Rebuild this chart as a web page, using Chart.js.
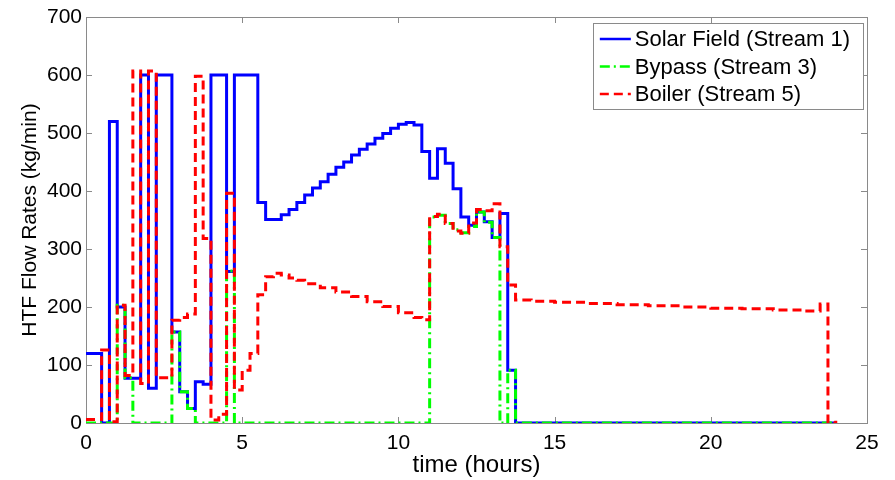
<!DOCTYPE html>
<html>
<head>
<meta charset="utf-8">
<script src="https://cdn.jsdelivr.net/npm/chart.js@4.4.0/dist/chart.umd.min.js"></script>
<style>
  html, body { margin: 0; padding: 0; background: #fff; }
</style>
</head>
<body>
<canvas id="flowChart" width="895" height="480"></canvas>
<script>
// Each flow value holds from its time until the next time in the list
const solarTimes = [0, 0.5, 0.75, 1.0, 1.25, 1.75, 2.0, 2.25, 2.75, 3.0,
  3.25, 3.5, 3.75, 4.0, 4.5, 4.75, 5.5, 5.75, 6.25, 6.5,
  6.75, 7.0, 7.25, 7.5, 7.75, 8.0, 8.25, 8.5, 8.75, 9.0,
  9.25, 9.5, 9.75, 10.0, 10.25, 10.5, 10.75, 11.0, 11.25, 11.5,
  11.75, 12.0, 12.25, 12.5, 12.75, 13.0, 13.25, 13.5, 13.75, 24];
const solarFlow = [120, 0, 520, 200, 77, 600, 60, 600, 157, 54,
  25, 71, 67, 600, 261, 600, 380, 351, 359, 368,
  380, 393, 405, 416, 429, 441, 450, 462, 472, 481,
  491, 499, 508, 515, 518, 514, 468, 422, 473, 448,
  404, 355, 341, 364, 347, 320, 361, 91, 0, 0];

const bypassTimes = [0, 1.0, 1.25, 1.5, 2.75, 3.0, 3.25, 3.5, 4.5, 4.75,
  11.0, 11.25, 11.5, 11.75, 12.0, 12.25, 12.5, 12.75, 13.0, 13.25,
  13.5, 13.75, 24];
const bypassFlow = [0, 203, 78, 0, 157, 54, 25, 0, 262, 0,
  355, 358, 344, 333, 328, 339, 364, 346, 320, 0,
  91, 0, 0];

const boilerTimes = [0, 0.5, 0.75, 1.0, 1.25, 1.5, 1.75, 2.0, 2.25, 2.75,
  3.0, 3.25, 3.5, 3.75, 4.0, 4.25, 4.5, 4.75, 5.0, 5.25,
  5.5, 5.75, 6.0, 6.25, 6.5, 6.75, 7.0, 7.5, 8.0, 8.5,
  9.0, 9.5, 10.0, 10.5, 10.75, 11.0, 11.25, 11.5, 11.75, 12.0,
  12.25, 12.5, 12.75, 13.0, 13.25, 13.5, 13.75, 14.25, 15, 16,
  17, 18, 19, 20, 21, 22, 23, 23.5, 23.75, 24];
const boilerFlow = [6, 126, 2, 203, 82, 607, 68, 607, 78, 177,
  182, 188, 598, 318, 5, 15, 396, 57, 91, 120,
  221, 252, 258, 255, 250, 246, 240, 233, 226, 218,
  209, 201, 190, 182, 178, 356, 360, 344, 331, 327,
  345, 368, 366, 378, 304, 238, 212, 210, 208, 206,
  204, 202, 200, 198, 197, 195, 193, 205, 0, 4];

const xTicks = [0, 5, 10, 15, 20, 25];
const yTicks = [0, 100, 200, 300, 400, 500, 600, 700];

const FONT = "'Liberation Sans', Arial, sans-serif";
const AXIS_COLOR = "#8a8a8a";

function toPoints(times, flows) {
  return times.map((t, i) => ({ x: t, y: flows[i] }));
}

// box around the plot with inward tick marks on all four sides
const framePlugin = {
  id: "frame",
  beforeDatasetsDraw(chart) {
    const { ctx, chartArea: a, scales } = chart;
    const len = 6;
    ctx.save();
    ctx.strokeStyle = AXIS_COLOR;
    ctx.lineWidth = 1;
    ctx.strokeRect(a.left + 0.5, a.top + 0.5, a.right - a.left, a.bottom - a.top);
    ctx.beginPath();
    scales.x.ticks.forEach(tk => {
      const px = Math.round(scales.x.getPixelForValue(tk.value)) + 0.5;
      ctx.moveTo(px, a.bottom); ctx.lineTo(px, a.bottom - len);
      ctx.moveTo(px, a.top); ctx.lineTo(px, a.top + len);
    });
    scales.y.ticks.forEach(tk => {
      const py = Math.round(scales.y.getPixelForValue(tk.value)) + 0.5;
      ctx.moveTo(a.left, py); ctx.lineTo(a.left + len, py);
      ctx.moveTo(a.right, py); ctx.lineTo(a.right - len, py);
    });
    ctx.stroke();
    ctx.restore();
  }
};

// legend box in the upper right corner of the plot
const legendBoxPlugin = {
  id: "legendBox",
  afterDraw(chart) {
    const { ctx, chartArea: a } = chart;
    const sets = chart.data.datasets.slice().sort((p, q) => p.legendIndex - q.legendIndex);
    ctx.save();
    ctx.font = "22px " + FONT;
    const textW = Math.max(...sets.map(d => ctx.measureText(d.label).width));
    const right = a.right - 4;
    const top = a.top + 6;
    const w = textW + 55;
    const h = 86;
    const left = right - w;
    ctx.fillStyle = "#fff";
    ctx.fillRect(left, top, w, h);
    ctx.strokeStyle = AXIS_COLOR;
    ctx.lineWidth = 1;
    ctx.strokeRect(Math.round(left) + 0.5, top + 0.5, Math.round(w), h);
    sets.forEach((d, i) => {
      const y = top + 16 + i * 27.5;
      ctx.strokeStyle = d.borderColor;
      ctx.lineWidth = 2.5;
      ctx.setLineDash(d.borderDash || []);
      ctx.beginPath();
      ctx.moveTo(left + 7, y);
      ctx.lineTo(left + 38, y);
      ctx.stroke();
      ctx.setLineDash([]);
      ctx.fillStyle = "#000";
      ctx.textBaseline = "middle";
      ctx.textAlign = "left";
      ctx.fillText(d.label, left + 42, y + 1);
    });
    ctx.restore();
  }
};

const flowConfig = {
  type: "line",
  data: {
    datasets: [
      {
        label: "Solar Field (Stream 1)",
        legendIndex: 0,
        order: 2,
        data: toPoints(solarTimes, solarFlow),
        borderColor: "#0000ff",
        borderWidth: 3,
        stepped: true,
        pointRadius: 0,
        fill: false
      },
      {
        label: "Bypass (Stream 3)",
        legendIndex: 1,
        order: 1,
        data: toPoints(bypassTimes, bypassFlow),
        borderColor: "#00ff00",
        borderWidth: 3,
        borderDash: [10, 4, 2, 4],
        stepped: true,
        pointRadius: 0,
        fill: false
      },
      {
        label: "Boiler (Stream 5)",
        legendIndex: 2,
        order: 0,
        data: toPoints(boilerTimes, boilerFlow),
        borderColor: "#ff0000",
        borderWidth: 3,
        borderDash: [9, 5],
        stepped: true,
        pointRadius: 0,
        fill: false
      }
    ]
  },
  options: {
    responsive: false,
    animation: false,
    layout: { padding: { left: 0, right: 28, top: 17, bottom: 0 } },
    plugins: {
      legend: { display: false },
      tooltip: { enabled: false }
    },
    scales: {
      x: {
        type: "linear",
        min: 0,
        max: 25,
        afterFit(scale) { scale.height = 57; },
        afterBuildTicks(scale) { scale.ticks = xTicks.map(v => ({ value: v })); },
        grid: { display: false, drawTicks: false },
        border: { display: false },
        ticks: { color: "#000", padding: 8, font: { family: FONT, size: 21 } },
        title: {
          display: true,
          text: "time (hours)",
          color: "#000",
          font: { family: FONT, size: 24 },
          padding: { top: 0, bottom: 0 }
        }
      },
      y: {
        type: "linear",
        min: 0,
        max: 700,
        afterFit(scale) { scale.width = 86; },
        afterBuildTicks(scale) { scale.ticks = yTicks.map(v => ({ value: v })); },
        grid: { display: false, drawTicks: false },
        border: { display: false },
        ticks: { color: "#000", padding: 4, font: { family: FONT, size: 21 } },
        title: {
          display: true,
          text: "HTF Flow Rates (kg/min)",
          color: "#000",
          font: { family: FONT, size: 21 },
          padding: { top: 18, bottom: 0 }
        }
      }
    }
  },
  plugins: [framePlugin, legendBoxPlugin]
};

var flowChart = new Chart(document.getElementById("flowChart"), flowConfig);
</script>
</body>
</html>
